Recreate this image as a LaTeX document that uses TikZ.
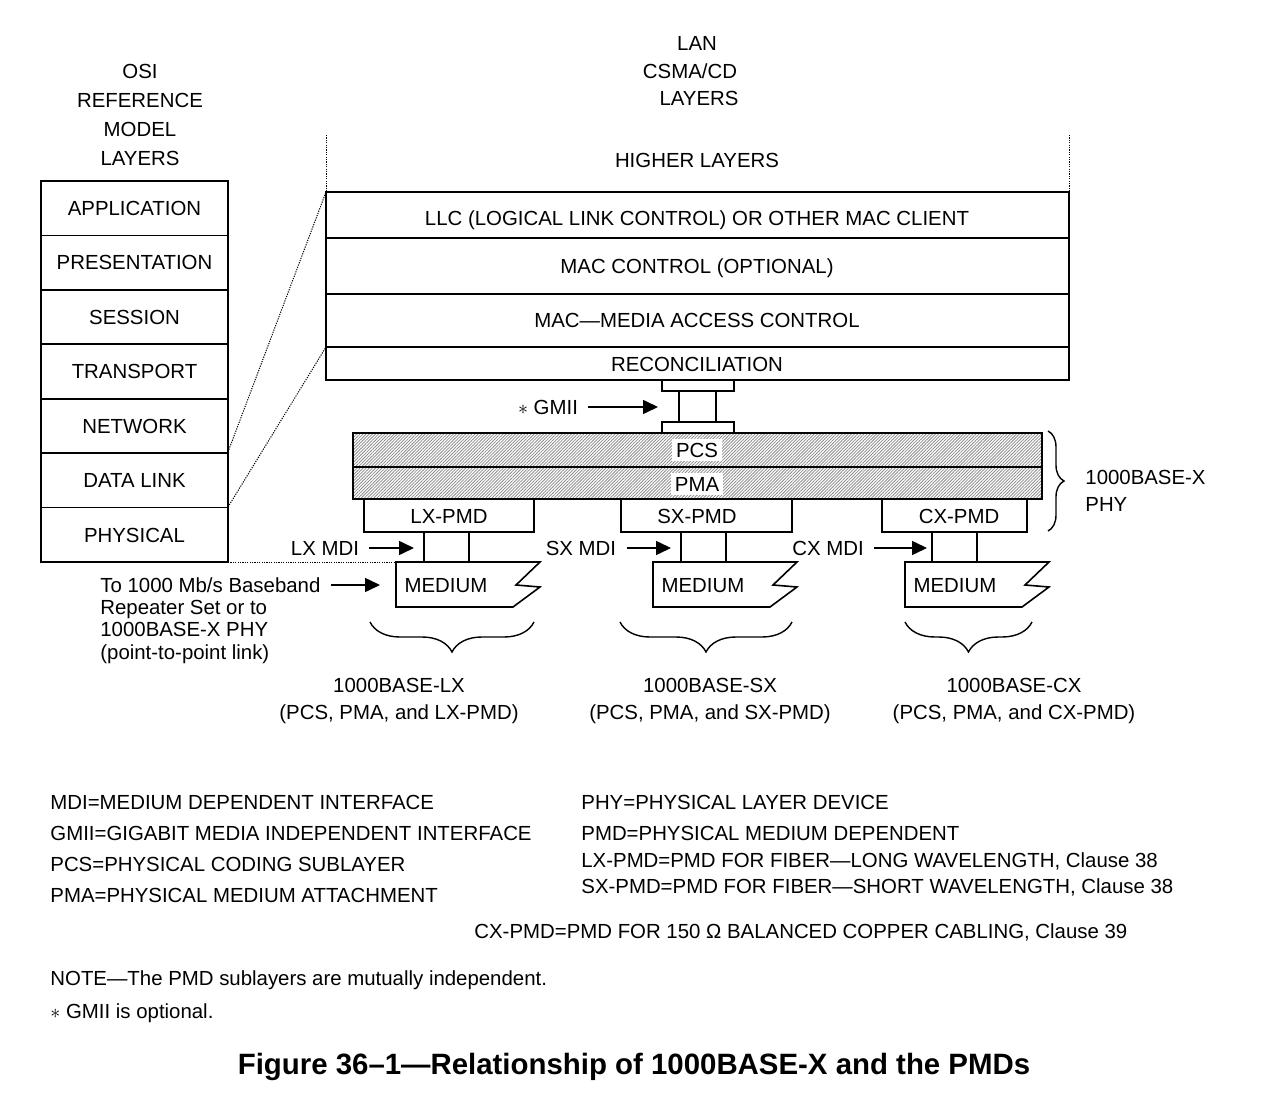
\documentclass[tikz,border=0pt]{standalone}
\usepackage{fontspec}
\setmainfont{Liberation Sans}
\usetikzlibrary{patterns.meta, decorations.pathreplacing, arrows.meta}
\tikzset{>={Triangle[length=7.5pt,width=7pt]}}
\def\lw{0.8pt}
\tikzset{
  txt/.style={inner sep=0pt, text height=7.3pt, text depth=0pt, font=\fontsize{10.2}{12}\selectfont},
  layer/.style={draw, line width=\lw},
  hatch/.style={pattern={Lines[angle=45,distance=1.1pt,line width=0.4pt]}, pattern color=black!45},
  dots/.style={line width=0.5pt, dash pattern=on 0.6pt off 0.6pt},
  brc/.style={decorate, decoration={brace, amplitude=#1}, line width=0.7pt},
  arr/.style={->, line width=\lw, shorten <=5pt},
}

\begin{document}
\begin{tikzpicture}[x=0.5pt, y=-0.5pt]
\useasboundingbox (0,0) rectangle (1286,1102);

    % OSI column
    \foreach \t [count=\i] in {OSI, REFERENCE, MODEL, LAYERS}
        \node[txt] (osititle\i) at (140,{71+(\i-1)*29}) {\t};

    \foreach \t [count=\i] in {APPLICATION, PRESENTATION, SESSION, TRANSPORT, NETWORK, DATA LINK, PHYSICAL}{
        \draw[layer] (41,{181+(\i-1)*54.43}) rectangle (228,{181+\i*54.43});
        \node[txt] (osi\i) at (134.5,{181+(\i-0.5)*54.43}) {\t};
    }
    \coordinate (netbot) at (228,452);
    \coordinate (dlbot) at (228,507);
    \coordinate (osibr) at (228,562);

    % LAN stack
    \node[txt] (lan1) at (697,43) {LAN};
    \node[txt] (lan2) at (690,71) {CSMA/CD};
    \node[txt] (lan3) at (699,98) {LAYERS};
    \node[txt] (higher) at (697,160) {HIGHER LAYERS};

    \foreach \top/\bot/\ty/\name/\t in {192/238/218/llc/{LLC (LOGICAL LINK CONTROL) OR OTHER MAC CLIENT}, 238/294/266/macctl/{MAC CONTROL (OPTIONAL)}, 294/347/320/mac/{MAC—MEDIA ACCESS CONTROL}, 347/380/364/rs/RECONCILIATION}{
        \draw[layer] (326,\top) rectangle (1069,\bot);
        \node[txt] (\name) at (697,\ty) {\t};
    }
    \coordinate (lantl) at (326,192);
    \coordinate (lantr) at (1069,192);
    \coordinate (rstl) at (326,347);
    \coordinate (lanleft) at (326,135);
    \coordinate (lanright) at (1069,135);

    % GMII
    \draw[layer] (662,380) rectangle (734,391);
    \draw[layer] (662,422) rectangle (734,433);
    \draw[layer] (679,391) -- (679,422) (716,391) -- (716,422);
    \node[txt] (gmii) at (548,407) {$\ast$ GMII};
    \coordinate (gmiiend) at (658,407);
    \draw[arr] (gmii) -- (gmiiend);

    % PCS and PMA
    \draw[layer, hatch] (353,433) rectangle (1042,467);
    \draw[layer, hatch] (353,467) rectangle (1042,499);
    \node[txt, fill=white, inner sep=2pt] (pcs) at (697,450) {PCS};
    \node[txt, fill=white, inner sep=2pt] (pma) at (697,484) {PMA};

    \draw[brc=8pt] (1048,431) -- (1048,531);
    \node[txt, anchor=west] (phy1) at (1085,477) {1000BASE-X};
    \node[txt, anchor=west] (phy2) at (1085,504) {PHY};

    % PMDs, MDIs and media
    \foreach \n/\l/\r/\tx/\ca/\cb/\lbx/\ae/\m in {LX/364/534/449/424/469/325/414/396, SX/621/792/697/681/726/581/671/653, CX/882/1027/959/932/977/828/927/905}{
        \draw[layer] (\l,499) rectangle (\r,532);
        \node[txt] (pmd\n) at (\tx,516) {\n-PMD};
        \draw[layer] (\ca,532) -- (\ca,562) (\cb,532) -- (\cb,562);
        \node[txt] (mdi\n) at (\lbx,548) {\n\ MDI};
        \coordinate (mdiend\n) at (\ae,548);
        \draw[arr] (mdi\n) -- (mdiend\n);
        \draw[layer] (\m,562) -- ++(144,0) -- ++(-24,23) -- ++(24,2) -- ++(-27,20) -- (\m,607) -- cycle;
        \node[txt] (med\n) at ({\m+50},585) {MEDIUM};
    }
    \coordinate (lxmedl) at (396,562);

    % Bottom braces
    \foreach \l/\r/\cx/\n in {370/534/399/LX, 620/792/710/SX, 905/1032/1014/CX}{
        \draw[brc=15pt] (\r,622) -- (\l,622);
        \node[txt] (base\n) at (\cx,685) {1000BASE-\n};
        \node[txt] (parts\n) at (\cx,712) {(PCS, PMA, and \n-PMD)};
    }

    % Repeater note
    \foreach \t [count=\i] in {To 1000 Mb/s Baseband, Repeater Set or to, 1000BASE-X PHY, (point-to-point link)}
        \node[txt, anchor=west] (rep\i) at (100,{585+(\i-1)*22.3}) {\t};
    \coordinate (repend) at (380,585);
    \draw[arr] (rep1.east) -- (repend);

    % Dotted lines
    \draw[dots] (osibr) -- (lxmedl);
    \draw[dots] (netbot) -- (lantl);
    \draw[dots] (dlbot) -- (rstl);
    \draw[dots] (lanleft) -- (lantl);
    \draw[dots] (lanright) -- (lantr);

    % Legend
    \foreach \y/\t [count=\i] in {802/{MDI=MEDIUM DEPENDENT INTERFACE}, 833/{GMII=GIGABIT MEDIA INDEPENDENT INTERFACE}, 864/{PCS=PHYSICAL CODING SUBLAYER}, 895/{PMA=PHYSICAL MEDIUM ATTACHMENT}}
        \node[txt, anchor=west] (legl\i) at (50,\y) {\t};
    \foreach \y/\t [count=\i] in {802/{PHY=PHYSICAL LAYER DEVICE}, 833/{PMD=PHYSICAL MEDIUM DEPENDENT}, 860/{LX-PMD=PMD FOR FIBER—LONG WAVELENGTH, Clause 38}, 886/{SX-PMD=PMD FOR FIBER—SHORT WAVELENGTH, Clause 38}}
        \node[txt, anchor=west] (legr\i) at (581,\y) {\t};
    \node[txt, anchor=west] (legcx) at (474,931) {CX-PMD=PMD FOR 150 Ω BALANCED COPPER CABLING, Clause 39};

    \node[txt, anchor=west] (note) at (50,978) {NOTE—The PMD sublayers are mutually independent.};
    \node[txt, anchor=west] (optnote) at (50,1011) {$\ast$ GMII is optional.};
    \node[inner sep=0pt, font=\fontsize{14.7}{17}\selectfont\bfseries] (caption) at (634,1067) {Figure 36–1—Relationship of 1000BASE-X and the PMDs};

\end{tikzpicture}
\end{document}
